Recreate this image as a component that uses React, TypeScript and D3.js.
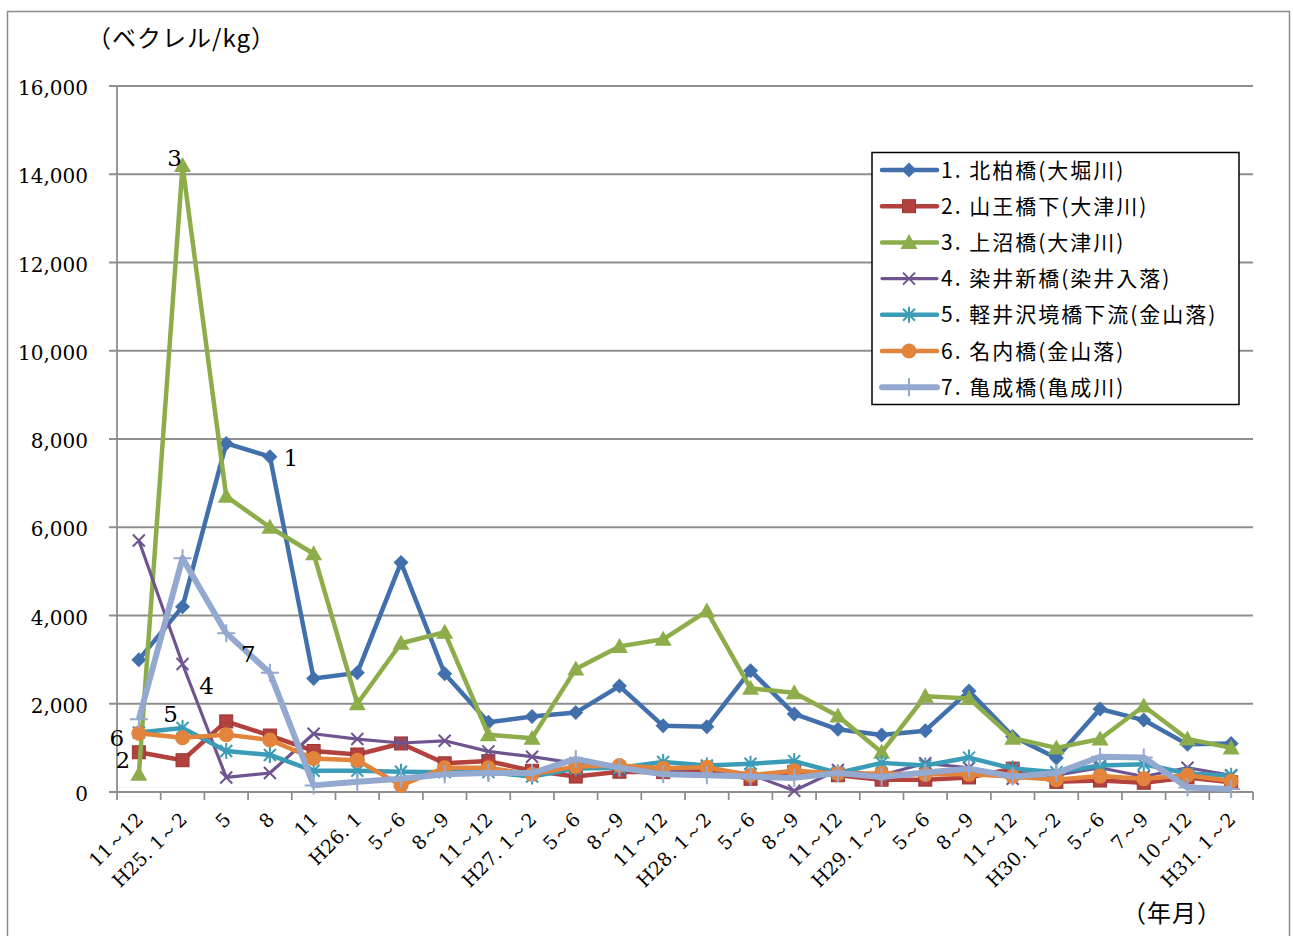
import React from 'react';
import * as d3 from 'd3';

// Sampling periods (x axis)
const periods = [
  '11～12', 'H25. 1～2', '5', '8', '11', 'H26. 1', '5～6', '8～9', '11～12',
  'H27. 1～2', '5～6', '8～9', '11～12', 'H28. 1～2', '5～6', '8～9', '11～12',
  'H29. 1～2', '5～6', '8～9', '11～12', 'H30. 1～2', '5～6', '7～9', '10～12', 'H31. 1～2',
];

// Radioactive cesium in river sediment (Bq/kg), one array per site
const kitakashiwa = [3000, 4200, 7900, 7600, 2570, 2700, 5200, 2680, 1580, 1710, 1800, 2400, 1500, 1480, 2750, 1770, 1420, 1290, 1390, 2290, 1260, 770, 1880, 1630, 1080, 1100];
const sannoKa = [900, 720, 1600, 1280, 930, 850, 1100, 650, 700, 480, 350, 460, 450, 480, 300, 450, 380, 280, 280, 330, 530, 230, 260, 210, 330, 220];
const kaminuma = [400, 14200, 6700, 6000, 5400, 2000, 3370, 3620, 1300, 1220, 2790, 3300, 3460, 4100, 2350, 2250, 1720, 900, 2170, 2120, 1220, 1000, 1200, 1950, 1200, 1000];
const someiShin = [5700, 2900, 330, 430, 1320, 1200, 1110, 1160, 920, 800, 650, 520, 480, 550, 400, 30, 500, 380, 650, 550, 300, 380, 550, 350, 550, 380];
const karuizawa = [1350, 1450, 930, 840, 480, 480, 460, 450, 450, 350, 530, 550, 680, 600, 640, 700, 430, 660, 600, 780, 530, 450, 600, 630, 420, 370];
const nanai = [1330, 1230, 1300, 1180, 760, 720, 150, 550, 550, 400, 580, 600, 540, 560, 380, 480, 420, 420, 400, 400, 350, 280, 360, 300, 380, 250];
const kamenari = [1650, 5300, 3600, 2700, 150, 230, 300, 400, 430, 430, 750, 550, 400, 380, 350, 320, 430, 340, 440, 530, 350, 430, 800, 780, 100, 70];

const seriesNames = [
  '1. 北柏橋(大堀川)',
  '2. 山王橋下(大津川)',
  '3. 上沼橋(大津川)',
  '4. 染井新橋(染井入落)',
  '5. 軽井沢境橋下流(金山落)',
  '6. 名内橋(金山落)',
  '7. 亀成橋(亀成川)',
];
const seriesValues = [kitakashiwa, sannoKa, kaminuma, someiShin, karuizawa, nanai, kamenari];
const seriesLabels = ['1', '2', '3', '4', '5', '6', '7'];

const yTickValues = [0, 2000, 4000, 6000, 8000, 10000, 12000, 14000, 16000];

type Marker = 'diamond' | 'square' | 'triangle' | 'cross' | 'star' | 'circle' | 'plus';

interface Style {
  color: string;
  width: number;
  marker: Marker;
  // point index and offset where the site number is written beside the line
  labelAt: number;
  labelDx: number;
  labelDy: number;
}

const styles: Style[] = [
  { color: '#4170AD', width: 4.5, marker: 'diamond', labelAt: 3, labelDx: 21, labelDy: 1 },
  { color: '#B3413E', width: 4.5, marker: 'square', labelAt: 0, labelDx: -16, labelDy: 8 },
  { color: '#8DAD4A', width: 4.5, marker: 'triangle', labelAt: 1, labelDx: -8, labelDy: -7 },
  { color: '#6F548F', width: 3.2, marker: 'cross', labelAt: 1, labelDx: 24, labelDy: 22 },
  { color: '#3A9CB7', width: 4.5, marker: 'star', labelAt: 1, labelDx: -12, labelDy: -14 },
  { color: '#E2843B', width: 4.5, marker: 'circle', labelAt: 0, labelDx: -22, labelDy: 5 },
  { color: '#93A9D0', width: 6, marker: 'plus', labelAt: 2, labelDx: 22, labelDy: 21 },
];

const W = 1293;
const H = 936;
const plot = { left: 117, right: 1253, top: 86, bottom: 792 };

const x = d3.scaleBand<number>().domain(d3.range(periods.length)).range([plot.left, plot.right]).padding(0);
const y = d3.scaleLinear().domain([0, 16000]).range([plot.bottom, plot.top]);
const cx = (i: number) => (x(i) as number) + x.bandwidth() / 2;

const serif = '"DejaVu Serif", "Liberation Serif", serif';
const gothic = '"Noto Sans CJK JP", "Noto Sans", sans-serif';
const gridColor = '#8E8E8E';

function MarkerGlyph({ kind, px, py, color }: { kind: Marker; px: number; py: number; color: string }) {
  switch (kind) {
    case 'diamond':
      return <path d={`M${px},${py - 7.5}L${px + 7.5},${py}L${px},${py + 7.5}L${px - 7.5},${py}Z`} fill={color} />;
    case 'square':
      return <rect x={px - 6.5} y={py - 6.5} width={13} height={13} fill={color} stroke="#9A3532" strokeWidth={1} />;
    case 'triangle':
      return <path d={`M${px},${py - 8.5}L${px + 8.5},${py + 6.5}L${px - 8.5},${py + 6.5}Z`} fill={color} />;
    case 'cross':
      return (
        <path d={`M${px - 6},${py - 6}L${px + 6},${py + 6}M${px - 6},${py + 6}L${px + 6},${py - 6}`} stroke={color} strokeWidth={2} fill="none" />
      );
    case 'star':
      return (
        <path
          d={`M${px - 6},${py - 6}L${px + 6},${py + 6}M${px - 6},${py + 6}L${px + 6},${py - 6}M${px},${py - 8}L${px},${py + 8}`}
          stroke={color}
          strokeWidth={2}
          fill="none"
        />
      );
    case 'circle':
      return <circle cx={px} cy={py} r={7.5} fill={color} />;
    case 'plus':
      return (
        <path d={`M${px - 9},${py}L${px + 9},${py}M${px},${py - 9}L${px},${py + 9}`} stroke={color} strokeWidth={2} fill="none" />
      );
  }
  return null;
}

export default function App() {
  const line = d3
    .line<number>()
    .x((_, i) => cx(i))
    .y((v) => y(v));

  const legendX = 872;
  const legendY = 152.5;
  const rowH = 36.2;

  return (
    <div style={{ position: 'absolute', left: 0, top: 0, width: W, height: H, background: '#fff' }}>
      <svg width={W} height={H} viewBox={`0 0 ${W} ${H}`} style={{ display: 'block' }}>
        <rect x={0} y={0} width={W} height={H} fill="#fff" />
        <rect x={7.5} y={11.5} width={1282} height={1000} fill="none" stroke="#8A8A8A" strokeWidth={1.5} />

        {/* horizontal gridlines and y axis labels */}
        {yTickValues.map((v) => (
          <g key={v}>
            <line x1={plot.left - 8} x2={plot.right} y1={y(v)} y2={y(v)} stroke={gridColor} strokeWidth={1.8} />
            <text x={88} y={y(v) + 2} dy="0.35em" textAnchor="end" fontFamily={serif} fontSize={20} fill="#000">
              {d3.format(',')(v)}
            </text>
          </g>
        ))}

        {/* y axis */}
        <line x1={plot.left} x2={plot.left} y1={plot.top} y2={plot.bottom} stroke={gridColor} strokeWidth={1.8} />

        {/* x axis with tick marks at category boundaries */}
        <line x1={plot.left} x2={plot.right} y1={plot.bottom} y2={plot.bottom} stroke={gridColor} strokeWidth={1.8} />
        {d3.range(periods.length + 1).map((i) => {
          const tx = i < periods.length ? (x(i) as number) : plot.right;
          return <line key={i} x1={tx} x2={tx} y1={plot.bottom} y2={plot.bottom + 8} stroke={gridColor} strokeWidth={1.8} />;
        })}
        {periods.map((p, i) => (
          <text
            key={i}
            transform={`translate(${cx(i) + 1},${816}) rotate(-45)`}
            dy="0.35em"
            textAnchor="end"
            fontFamily={serif}
            fontSize={19}
            fill="#000"
          >
            {p}
          </text>
        ))}

        {/* series lines and markers */}
        {seriesValues.map((vals, s) => (
          <g key={s}>
            <path d={line(vals) as string} fill="none" stroke={styles[s].color} strokeWidth={styles[s].width} strokeLinejoin="round" />
            {vals.map((v, i) => (
              <MarkerGlyph key={i} kind={styles[s].marker} px={cx(i)} py={y(v)} color={styles[s].color} />
            ))}
          </g>
        ))}

        {/* site numbers next to the lines */}
        {seriesValues.map((vals, s) => {
          const st = styles[s];
          return (
            <text
              key={s}
              x={cx(st.labelAt) + st.labelDx}
              y={y(vals[st.labelAt]) + st.labelDy}
              dy="0.35em"
              textAnchor="middle"
              fontFamily={serif}
              fontSize={23}
              fill="#000"
            >
              {seriesLabels[s]}
            </text>
          );
        })}

        {/* unit labels */}
        <text x={87} y={38} dy="0.36em" fontFamily={gothic} fontSize={24} letterSpacing={1} fill="#000">
          （ベクレル/kg）
        </text>
        <text x={1172} y={913} dy="0.36em" textAnchor="middle" fontFamily={gothic} fontSize={24} letterSpacing={1} fill="#000">
          （年月）
        </text>

        {/* legend */}
        <rect x={legendX} y={legendY} width={367} height={252} fill="#fff" stroke="#000" strokeWidth={1.5} />
        {seriesNames.map((name, s) => {
          const ry = legendY + 17.5 + s * rowH;
          const st = styles[s];
          return (
            <g key={s}>
              <line x1={882} x2={937} y1={ry} y2={ry} stroke={st.color} strokeWidth={st.width} strokeLinecap="round" />
              <MarkerGlyph kind={st.marker} px={909} py={ry} color={st.color} />
              <text x={941} y={ry} dy="0.36em" fontFamily={gothic} fontSize={21} letterSpacing={2} fill="#000">
                {name}
              </text>
            </g>
          );
        })}
      </svg>
    </div>
  );
}
